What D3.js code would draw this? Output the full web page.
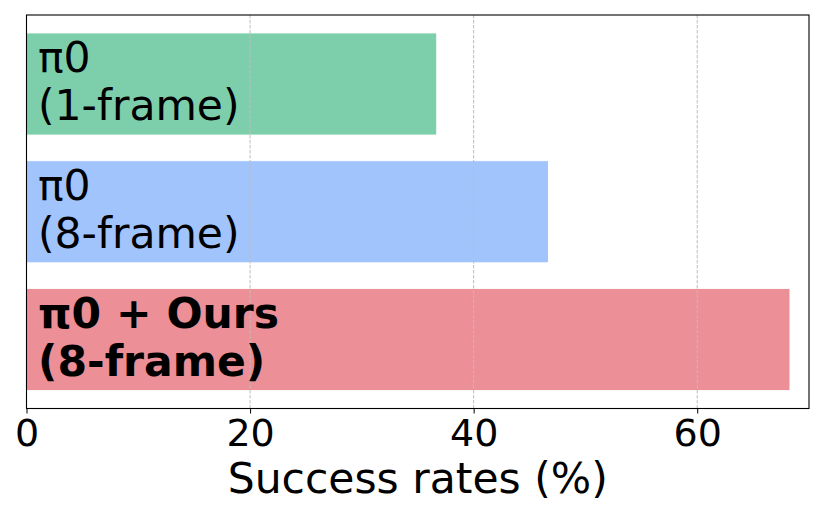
<!DOCTYPE html>
<html>
<head>
<meta charset="utf-8">
<script src="https://cdn.jsdelivr.net/npm/d3@7"></script>
<style>
  body { margin: 0; background: #fff; }
  svg { display: block; font-family: "DejaVu Sans", sans-serif; }
</style>
</head>
<body>
<script>
// data
var labelsTop = ["π0", "π0", "π0 + Ours"];
var labelsBottom = ["(1-frame)", "(8-frame)", "(8-frame)"];
var values = [36.7, 46.7, 68.3];
var colors = ["#7dcfab", "#a1c4fd", "#ec8f96"];
var bold = [false, false, true];
var xTicks = [0, 20, 40, 60];

var width = 825,
    height = 516;

var plotLeft = 26.5, plotRight = 809, plotTop = 15, plotBottom = 408.5;

var svg = d3.select("body").append("svg")
    .attr("width", width)
    .attr("height", height);

var x = d3.scaleLinear().domain([0, 70]).range([plotLeft, plotRight]);
var y = d3.scaleLinear().domain([-0.54, 2.54]).range([plotTop, plotBottom]);
var barH = y(0.8) - y(0);

// bars
svg.selectAll("rect.bar")
    .data(values)
  .enter().append("rect")
    .attr("class", "bar")
    .attr("x", x(0))
    .attr("y", function(d, i) { return y(i) - barH / 2; })
    .attr("width", function(d) { return x(d) - x(0); })
    .attr("height", barH)
    .attr("fill", function(d, i) { return colors[i]; })
    .attr("stroke", "#fff")
    .attr("stroke-width", 1);

// grid
svg.selectAll("line.grid")
    .data(xTicks.slice(1))
  .enter().append("line")
    .attr("class", "grid")
    .attr("x1", function(d) { return x(d); })
    .attr("x2", function(d) { return x(d); })
    .attr("y1", plotTop)
    .attr("y2", plotBottom)
    .attr("stroke", "#bdbdbd")
    .attr("stroke-width", 1)
    .attr("stroke-dasharray", "3.5,1.5");

// labels inside bars
var lab = svg.selectAll("text.lab")
    .data(values)
  .enter().append("text")
    .attr("class", "lab")
    .attr("x", 38)
    .attr("y", function(d, i) { return y(i) - 12; })
    .attr("font-size", 42.5)
    .attr("font-weight", function(d, i) { return bold[i] ? "bold" : "normal"; })
    .attr("fill", "#000");
lab.append("tspan")
    .attr("x", 38)
    .text(function(d, i) { return labelsTop[i]; });
lab.append("tspan")
    .attr("x", 38)
    .attr("dy", 48.5)
    .text(function(d, i) { return labelsBottom[i]; });

// axis
var xAxis = svg.append("g")
    .attr("transform", "translate(0," + plotBottom + ")")
    .call(d3.axisBottom(x).tickValues(xTicks).tickSize(5).tickPadding(5.5).tickSizeOuter(0));
xAxis.select(".domain").remove();
xAxis.selectAll("text")
    .attr("font-size", 38)
    .attr("font-family", "DejaVu Sans")
    .attr("fill", "#000");
xAxis.selectAll("line").attr("stroke", "#000").attr("stroke-width", 1);

// frame
svg.append("rect")
    .attr("x", plotLeft)
    .attr("y", plotTop)
    .attr("width", plotRight - plotLeft)
    .attr("height", plotBottom - plotTop)
    .attr("fill", "none")
    .attr("stroke", "#000")
    .attr("stroke-width", 1.1);

svg.append("text")
    .attr("x", (plotLeft + plotRight) / 2)
    .attr("y", 493)
    .attr("text-anchor", "middle")
    .attr("font-size", 42.5)
    .text("Success rates (%)");
</script>
</body>
</html>
